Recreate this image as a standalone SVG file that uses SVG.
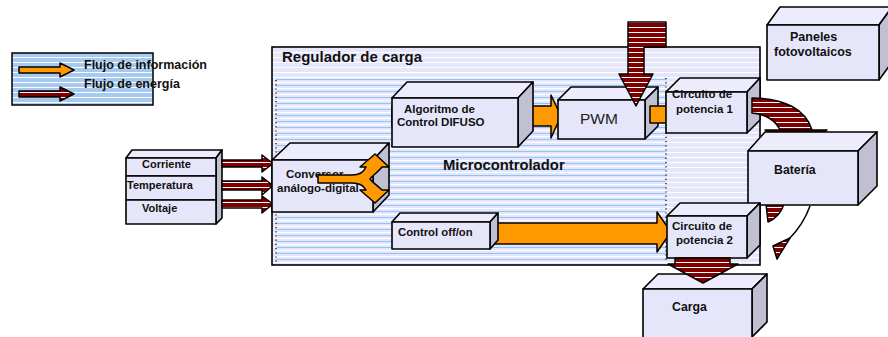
<svg xmlns="http://www.w3.org/2000/svg" width="888" height="337" viewBox="0 0 888 337">
<style>
.t{font-family:"Liberation Sans",Arial,sans-serif;font-weight:bold;fill:#111}
.f{fill:#e6e6fa;stroke:#000;stroke-width:1.6;stroke-linejoin:round}
.tp{fill:#ececfc;stroke:#000;stroke-width:1.6;stroke-linejoin:round}
.sd{fill:#c0c0d2;stroke:#000;stroke-width:1.6;stroke-linejoin:round}
.or{fill:#ff9900;stroke:#000;stroke-width:1.5;stroke-linejoin:round}
.rd{fill:url(#red);stroke:#000;stroke-width:1.5;stroke-linejoin:round}
pattern rect{shape-rendering:crispEdges}
</style>
<defs>
<pattern id="red" patternUnits="userSpaceOnUse" width="8" height="5">
<rect width="8" height="5" fill="#800000"/>
<rect y="2" width="8" height="1" fill="#ffffff"/>
</pattern>
<pattern id="regbg" patternUnits="userSpaceOnUse" width="8" height="5">
<rect width="8" height="5" fill="#e6e6fa"/>
<rect y="2" width="8" height="1" fill="#ffffff"/>
</pattern>
<pattern id="micbg" patternUnits="userSpaceOnUse" width="8" height="6">
<rect width="8" height="6" fill="#e6e6fa"/>
<rect y="1" width="8" height="1" fill="#8fc4f8"/>
<rect y="4" width="8" height="1" fill="#ffffff"/>
</pattern>
<pattern id="legbg" patternUnits="userSpaceOnUse" width="8" height="5">
<rect width="8" height="5" fill="#a6caf0"/>
<rect y="2" width="8" height="1" fill="#ffffff"/>
</pattern>
</defs>
<rect width="888" height="337" fill="#ffffff"/>

<g id="legend">
<rect x="12" y="53" width="141" height="52" fill="url(#legbg)" stroke="#000" stroke-width="1.5"/>
<path class="or" d="M19,67 H60 V63 L74,70 L60,77 V73 H19 Z"/>
<path class="rd" d="M19,91 H60 V87 L74,94 L60,101 V97 H19 Z"/>
<text class="t" x="84" y="69" font-size="12.5">Flujo de información</text>
<text class="t" x="84" y="88" font-size="12.5">Flujo de energía</text>
</g>

<g id="regulador">
<rect x="272" y="47" width="488" height="218" fill="url(#regbg)" stroke="#000" stroke-width="1.6"/>
<rect x="276" y="78" width="390" height="184" fill="url(#micbg)"/>
<line x1="276" y1="80" x2="276" y2="262" stroke="#000" stroke-width="1.2" stroke-dasharray="1.2,3"/>
<line x1="666" y1="78" x2="666" y2="262" stroke="#000" stroke-width="1.2" stroke-dasharray="1.2,3"/>
<text class="t" x="282" y="62" font-size="15">Regulador de carga</text>
<text class="t" x="443" y="170" font-size="14.8">Microcontrolador</text>
</g>

<g id="paneles">
<polygon class="tp" points="767,25 780,7 892,7 879,25"/>
<polygon class="sd" points="879,25 892,7 892,62 879,80"/>
<rect class="f" x="767" y="25" width="112" height="55"/>
<text class="t" x="790" y="41" font-size="12.5">Paneles</text>
<text class="t" x="774" y="56" font-size="12.5">fotovoltaicos</text>
</g>

<g id="sensores">
<g id="corriente">
<polygon class="tp" points="126,158 132,150 222,150 216,158"/>
<polygon class="sd" points="216,158 222,150 222,218 216,224"/>
<rect class="f" x="126" y="158" width="90" height="18"/>
<text class="t" x="142" y="168" font-size="11">Corriente</text>
</g>
<g id="temperatura">
<rect class="f" x="126" y="176" width="90" height="24"/>
<text class="t" x="127" y="189" font-size="11">Temperatura</text>
</g>
<g id="voltaje">
<rect class="f" x="126" y="200" width="90" height="24"/>
<text class="t" x="142" y="212" font-size="11">Voltaje</text>
</g>
</g>

<g id="connectors">
<path class="rd" d="M222,160 H262 V155 L273,163.5 L262,172 V167 H222 Z"/>
<path class="rd" d="M222,181 H262 V177 L273,185.5 L262,195 V190 H222 Z"/>
<path class="rd" d="M222,200 H262 V196 L273,204 L262,213 V208 H222 Z"/>
<path class="or" d="M392,106 H551 V95 L561,116 L551,138 V126 H392 Z" id="c-alg-pwm"/>
<path class="or" d="M490,223 H657 V212 L671,232 L657,252 V244 H490 Z" id="c-ctrl-c2"/>
</g>

<g id="conversor">
<polygon class="tp" points="272,160 290,143 389,143 373,160"/>
<polygon class="sd" points="373,160 389,143 389,195 373,212"/>
<rect class="f" x="272" y="160" width="101" height="52"/>
<text class="t" x="286" y="178" font-size="11.5">Conversor</text>
<text class="t" x="277" y="192" font-size="11.5">análogo-digital</text>
<path class="or" d="M318,175 H352 C360,175 364,172 366,167 H360 L375,154 L389,167 H382 C378,172 372,176 370,179 C372,182 378,186 382,190 H389 L375,203 L360,190 H366 C364,186 360,183 352,183 H318 Z"/>
</g>

<g id="algoritmo">
<polygon class="tp" points="392,98 407,82 533,82 518,98"/>
<polygon class="sd" points="518,98 533,82 533,131 518,147"/>
<rect class="f" x="392" y="98" width="126" height="49"/>
<text class="t" x="404" y="113" font-size="11.5">Algoritmo de</text>
<text class="t" x="397" y="126" font-size="11.5">Control DIFUSO</text>
</g>

<g id="pwm">
<polygon class="tp" points="558,100 571,87 658,87 645,100"/>
<polygon class="sd" points="645,100 658,87 658,126 645,139"/>
<rect class="f" x="558" y="100" width="87" height="39"/>
<text x="580" y="124" font-family="Liberation Sans, Arial, sans-serif" font-size="15.5" fill="#222">PWM</text>
</g>

<g id="connectors-2">
<rect class="or" x="650" y="106" width="17" height="17"/>
<path class="rd" d="M628,22 H666 V47 H644 V74 H653 L636,106 L619,74 H628 Z"/>
</g>

<g id="circuito1">
<polygon class="tp" points="666,92 680,78 760,78 747,92"/>
<polygon class="sd" points="747,92 760,78 760,120 747,133"/>
<rect class="f" x="666" y="92" width="81" height="41"/>
<text class="t" x="672" y="98" font-size="11.5">Circuito de</text>
<text class="t" x="676" y="113" font-size="11.5">potencia 1</text>
</g>

<g id="connectors-3">
<path class="rd" d="M752,98 C785,98 806,110 812,130 H780 C776,121 766,114 752,113 Z"/>
<path class="rd" d="M765,130 H827 L796,152 Z"/>
<path class="rd" d="M766,204 H784 C781,214 775,219 768,222 Z"/>
<path fill="none" stroke="#000" stroke-width="1.5" d="M810,206 C805,220 797,231 789,239"/>
<path class="rd" d="M773,246 L790,238 L777,259 Z"/>
</g>

<g id="bateria">
<polygon class="tp" points="748,151 765,132 877,132 858,151"/>
<polygon class="sd" points="858,151 877,132 877,186 858,205"/>
<rect class="f" x="748" y="151" width="110" height="54"/>
<text class="t" x="774" y="174" font-size="12.3">Batería</text>
</g>

<g id="control">
<polygon class="tp" points="392,222 400,213 498,213 490,222"/>
<polygon class="sd" points="490,222 498,213 498,240 490,249"/>
<rect class="f" x="392" y="222" width="98" height="27"/>
<text class="t" x="398" y="236" font-size="11.3">Control off/on</text>
</g>

<g id="circuito2">
<polygon class="tp" points="667,216 680,203 760,203 747,216"/>
<polygon class="sd" points="747,216 760,203 760,245 747,258"/>
<rect class="f" x="667" y="216" width="80" height="42"/>
<text class="t" x="672" y="230" font-size="11.5">Circuito de</text>
<text class="t" x="676" y="244" font-size="11.5">potencia 2</text>
</g>

<g id="carga">
<polygon class="tp" points="643,289 658,274 767,274 752,289"/>
<polygon class="sd" points="752,289 767,274 767,322 752,337"/>
<rect class="f" x="643" y="289" width="109" height="56"/>
<text class="t" x="672" y="311" font-size="12.3">Carga</text>
</g>

<g id="connectors-4">
<path class="rd" d="M675,258 H730 V264 H738 L703,283 L668,264 H675 Z"/>
</g>
</svg>
